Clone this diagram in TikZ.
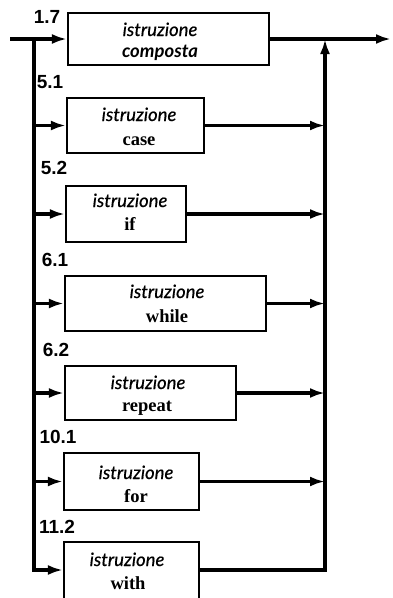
\documentclass[tikz,border=0pt]{standalone}
\usepackage{fontspec}
\setmainfont{Liberation Serif}
\newfontfamily\optfont{Lato}[ItalicFeatures={FakeBold=0.6}]
\newfontfamily\lblfont{Liberation Sans}
\usetikzlibrary{arrows.meta}
\begin{document}
\begin{tikzpicture}[x=1pt,y=-1pt,
  box/.style={draw, line width=2.2pt, rectangle, inner sep=0pt},
  wire/.style={line width=3.2pt, line join=miter},
  conn/.style={wire, -{Latex[length=15pt,width=10pt]}},
  lbl/.style={font=\lblfont\bfseries\fontsize{19}{19}\selectfont, inner sep=0pt},
  ist/.style={anchor=base, inner sep=0pt, font=\optfont\itshape\fontsize{18.5}{20}\selectfont},
  kw/.style={anchor=base, inner sep=0pt, font=\bfseries\fontsize{18.5}{20}\selectfont},
]
\useasboundingbox (0,0) rectangle (393,598);
% boxes
\node[box, minimum width=201pt, minimum height=52pt] (b1) at (168.5,39) {};
\node[box, minimum width=137pt, minimum height=55pt] (b2) at (135.5,125.5) {};
\node[box, minimum width=120pt, minimum height=56pt] (b3) at (126,214) {};
\node[box, minimum width=201pt, minimum height=55pt] (b4) at (165.5,303.5) {};
\node[box, minimum width=171pt, minimum height=54pt] (b5) at (150.5,393) {};
\node[box, minimum width=135pt, minimum height=57pt] (b6) at (131.5,481.5) {};
\node[box, minimum width=135pt, minimum height=60pt, anchor=north] (b7) at (131.5,541) {};
% texts
\node[ist] (t1a) at (160,36) {istruzione};
\node[ist, font=\optfont\itshape\bfseries\fontsize{18.5}{20}\selectfont] (t1b) at (160,57) {composta};
\node[ist] (t2a) at (139,121) {istruzione};
\node[kw] (t2b) at (139,145) {case};
\node[ist] (t3a) at (130,207) {istruzione};
\node[kw] (t3b) at (130,230) {if};
\node[ist] (t4a) at (167,298) {istruzione};
\node[kw] (t4b) at (167,322) {while};
\node[ist] (t5a) at (148,389) {istruzione};
\node[kw] (t5b) at (147,411) {repeat};
\node[ist] (t6a) at (136,479) {istruzione};
\node[kw] (t6b) at (136,502) {for};
\node[ist] (t7a) at (127,566) {istruzione};
\node[kw] (t7b) at (128,589) {with};
% labels
\node[lbl] (n1) at (47,17) {1.7};
\node[lbl] (n2) at (50,82) {5.1};
\node[lbl] (n3) at (54,168) {5.2};
\node[lbl] (n4) at (55,260) {6.1};
\node[lbl] (n5) at (56,350) {6.2};
\node[lbl] (n6) at (58,437) {10.1};
\node[lbl] (n7) at (57,527) {11.2};
% coordinates
\coordinate (in) at (10,39);
\coordinate (out) at (391,39);
\coordinate (L1) at (34,39);
\coordinate (L2) at (34,125.5);
\coordinate (L3) at (34,214);
\coordinate (L4) at (34,303.5);
\coordinate (L5) at (34,393);
\coordinate (L6) at (34,481.5);
\coordinate (L7) at (34,570);
\coordinate (R1) at (325,39);
\coordinate (R2) at (325,125.5);
\coordinate (R3) at (325,214);
\coordinate (R4) at (325,303.5);
\coordinate (R5) at (325,393);
\coordinate (R6) at (325,481.5);
\coordinate (R7) at (325,570);
% left side
\draw[conn] (in) -- (b1.west);
\draw[conn] (L1) -- (L7) -- (b7.west |- L7);
\draw[conn] (L2) -- (b2.west);
\draw[conn] (L3) -- (b3.west);
\draw[conn] (L4) -- (b4.west);
\draw[conn] (L5) -- (b5.west);
\draw[conn] (L6) -- (b6.west);
% right side
\draw[conn] (b1.east) -- (out);
\draw[conn] (b2.east) -- (R2);
\draw[conn] (b3.east) -- (R3);
\draw[conn] (b4.east) -- (R4);
\draw[conn] (b5.east) -- (R5);
\draw[conn] (b6.east) -- (R6);
\draw[conn] (b7.east |- R7) -- (R7) -- (R1);
\end{tikzpicture}
\end{document}
